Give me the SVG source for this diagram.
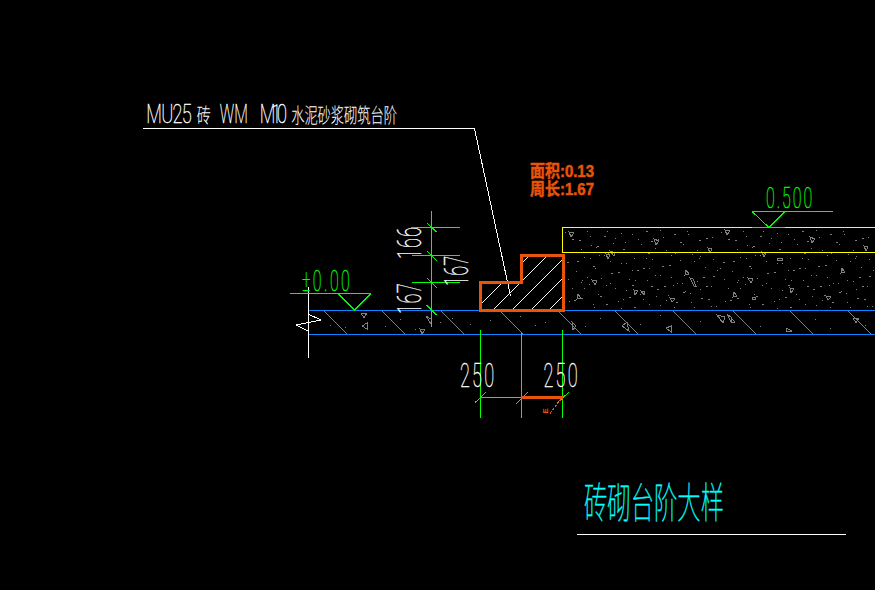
<svg xmlns="http://www.w3.org/2000/svg" width="875" height="590" viewBox="0 0 875 590">
<style>
path,use{shape-rendering:crispEdges}
.w{stroke:#fff;fill:none;stroke-width:1}
.g{stroke:#0f0;fill:none;stroke-width:1}
.b{stroke:#0a84ff;fill:none;stroke-width:1}
.y{stroke:#ff0;fill:none;stroke-width:1}
.h{stroke:#808080;fill:none;stroke-width:1}
.d{stroke:#808080;fill:none;stroke-width:1}
.t{stroke:#808080;fill:none;stroke-width:1}
text{font-family:"Roboto","Liberation Sans","Noto Sans CJK SC",sans-serif;font-weight:100}
.c{font-family:"Noto Sans CJK SC","Liberation Sans",sans-serif;font-weight:100}
.nw{fill:#fff;stroke:#fff;stroke-width:.4;font-size:33px}
.ng{fill:#0f0;stroke:#0f0;stroke-width:.4;font-size:29px}
.or{fill:#e8540a;stroke:#e8540a;stroke-width:.5;font-family:"Liberation Sans","Noto Sans CJK SC",sans-serif;font-weight:700;font-size:17px}
</style>
<defs>
<path id="sp" d="M7 4h1M16 12h2M24 3h1M33 19h1M41 8h2M50 15h1M58 5h1M66 24h2M75 11h1M83 3h2M92 20h1M100 9h1M108 27h1M117 14h2M125 6h1M134 22h1M143 10h2M150 31h1M4 34h2M13 43h1M21 29h1M30 38h2M38 50h1M47 33h1M55 44h2M63 35h1M72 52h1M80 40h2M89 31h1M97 47h1M106 37h2M114 55h1M123 42h1M131 33h1M140 49h2M148 58h1M9 60h1M18 70h2M26 56h1M35 66h1M43 76h2M52 60h1M60 71h1M69 57h2M77 66h1M86 76h1M94 61h2M103 72h1M111 79h1M120 64h2M128 74h1M137 61h1M145 71h2M153 78h1M11 24h2M28 17h1M45 25h1M62 14h1M88 13h2M112 25h1M137 28h1M19 52h1M36 27h1M69 42h1M101 58h2M128 52h1M154 42h1M6 73h1M31 79h1M58 80h1M84 52h1"/>
<path id="tr" d="M3 0l5 1l-3 4zM40 22l4 1l-2 4zM88 7l5 2l-3 4zM120 38l3 4l-4 1zM26 48l5 1l-2 4zM68 58l4 1l-3 4zM104 66l5 1l-3 3zM142 16l4 1l-2 4zM12 62l3 4l-4 1z"/>
</defs>
<rect width="875" height="590" fill="#000"/>

<g id="fill-hatch">
<g id="speckle-upper">
<use href="#sp" x="563" y="228" class="d"/><use href="#sp" x="719" y="228" class="d"/>
<use href="#sp" transform="translate(719 310) scale(-1 -1)" class="d"/><use href="#sp" transform="translate(875 310) scale(-1 -1)" class="d"/>
<use href="#tr" x="566" y="232" class="t"/><use href="#tr" x="722" y="230" class="t"/>
</g>
<path d="M690 278l4 8l2 0l-3-7zM610 251l4 5l1-3zM777 258h5v2h-5zM641 291l3 4l1-3zM752 297h3v2h-3z" fill="#808080" class="d"/>
<g id="concrete">
<path class="h" d="M324 311l23 23M382 311l23 23M441 311l23 23M500 311l23 23M558 311l23 23M615 311l23 23M673 311l23 23M733 311l23 23M790 311l23 23M848 311l23 23"/>
<path class="t" d="M361 313l6 0l-3 5zM426 316l5 3l0 5zM362 326l5-3l0 6zM420 329l5 1l-3 4zM572 322l4 4l-3 4zM622 326l5-4l2 9zM666 328l5-2l0 6zM717 315l8 2l-2 6zM727 314l5 4l-1 4zM731 318l4 4l-4 1zM786 328l6 3l-6 1zM853 318l6 0l-3 5z"/>
<path class="d" d="M330 325h1M345 327h1M385 326h1M400 319h1M415 329h1M440 322h1M452 318h1M470 324h1M490 320h1M520 316h1M535 325h1M545 322h1M585 326h1M600 318h1M640 324h1M660 315h1M700 321h1M760 326h1M815 319h1M830 328h1M865 325h1"/>
</g>
</g>

<g id="structure">
<path class="b" d="M308 310.500H875M308 334.500H875"/>
<path class="y" d="M562.500 252.500V227.500H875M562.500 252.500H875"/>
<path class="w" d="M308.500 287V358M308 314L321 320L296 325L308 331"/>
</g>

<g id="brick-hatch">
<path class="w" d="M481.700 303.300L501.700 283.300M522 263.300L528.300 256.700M494.300 309L546 257.300M513.300 309L562 260M532.300 309L562 279M550 309L562 297"/>
</g>

<g id="connectors">
<path class="w" d="M143 128.500H474.500L510.500 296"/>
<path class="w" d="M577 534.500H846"/>
<path class="g" d="M431.500 211V327M411 227.500H460M412 255.500H460M412 282.500H460M426.700 222.700L436.700 232M426.700 250.700L436.700 260.700M426.700 277.700L436.700 287.700M426.700 305.300L436.700 315.300"/>
<path class="g" d="M480.500 330V417.500M521.500 333V417.500M562.500 330V417.500M480.500 397.500H521.500M475 402.700L486 392M516 404L528 392M557 403L569 392"/>
<path class="g" d="M290 293.500H371M338 293.500L354.500 310L371 293.500"/>
<path class="g" d="M752 211.500H833M752 211.500L769 227.500L785 211.500M752 227.500H785"/>
<path d="M521 397.500H563" stroke="#e8540a" stroke-width="3" fill="none"/>
<path d="M550 413.500L561.500 398.500" stroke="#e8540a" stroke-width="1" stroke-dasharray="3 1" fill="none"/>
</g>

<g id="brick-outline">
<path d="M480.500 282.500H521.500V255.500H563V310H480.500Z" fill="none" stroke="#e8540a" stroke-width="3"/>
</g>

<g id="labels">
<text fill="#fff" font-size="20" transform="translate(0 123) scale(.7 1)"><tspan x="209" style="font-size:26px" stroke="#fff" stroke-width=".4" textLength="65" lengthAdjust="spacing">MU25</tspan><tspan class="c" stroke="#fff" stroke-width=".3" x="281">砖</tspan><tspan x="314" style="font-size:26px" stroke="#fff" stroke-width=".4" textLength="40" lengthAdjust="spacingAndGlyphs">WM</tspan><tspan x="371" style="font-size:26px" stroke="#fff" stroke-width=".4" textLength="39" lengthAdjust="spacing">M10</tspan><tspan class="c" stroke="#fff" stroke-width=".3" x="416" textLength="151" lengthAdjust="spacingAndGlyphs">水泥砂浆砌筑台阶</tspan></text>

<text class="or" x="530" y="177" textLength="64" lengthAdjust="spacingAndGlyphs">面积:0.13</text>
<text class="or" x="530" y="195" textLength="64" lengthAdjust="spacingAndGlyphs">周长:1.67</text>

<text class="ng" transform="translate(302 291) scale(.55 1)" textLength="87">±0.00</text>
<text class="ng" transform="translate(766 208) scale(.55 1)" textLength="84">0.500</text>

<text class="nw" transform="translate(421 259) rotate(-90) scale(.55 1)" textLength="58">166</text>
<text class="nw" transform="translate(421 314) rotate(-90) scale(.55 1)" textLength="56">167</text>
<text class="nw" transform="translate(468 286) rotate(-90) scale(.55 1)" textLength="55">167</text>

<text class="nw" transform="translate(460 387) scale(.55 1)" textLength="62">250</text>
<text class="nw" transform="translate(543.500 387) scale(.55 1)" textLength="62">250</text>

<text fill="#e8540a" style="font-family:'Liberation Sans',sans-serif;font-weight:700" font-size="8" transform="translate(548 413.500) rotate(-90)">E</text>

<text class="c" fill="#0ff" stroke="#0ff" stroke-width=".5" font-size="42" x="584" y="518" textLength="140" lengthAdjust="spacingAndGlyphs">砖砌台阶大样</text>
</g>
</svg>
